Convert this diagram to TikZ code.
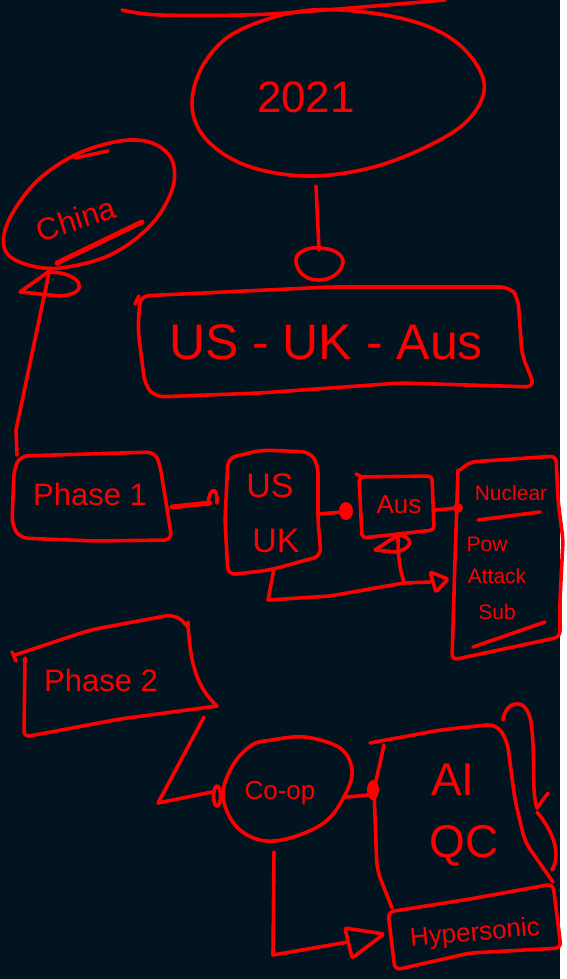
\documentclass[tikz,border=0pt]{standalone}
\usepackage{fontspec}
\setmainfont{Liberation Sans}
\definecolor{bgc}{HTML}{011420}
\definecolor{inkc}{HTML}{FF0000}
\tikzset{
  pen/.style={draw=inkc, line width=3.6pt, line cap=round, line join=round},
  lbl/.style={text=inkc, inner sep=0pt, anchor=center},
  blob/.style={fill=inkc, draw=none}
}
\begin{document}
\begin{tikzpicture}[x=1pt,y=-1pt]
\useasboundingbox (0,0) rectangle (566,979);
\fill[bgc] (0,0) rectangle (560,979);
\fill[white] (560,0) rectangle (566,979);

% ---------- top stroke and 2021 ellipse
\draw[pen] plot[smooth] coordinates {(122,10) (160,15) (270,14) (445,0)};
\draw[pen] plot[smooth cycle, tension=0.6] coordinates {(312,10) (400,18) (456,42) (484,82) (470,118) (430,145) (370,168) (305,176) (245,165) (205,138) (192,103) (205,62) (240,30)};
\node[lbl, font=\fontsize{44}{48}\selectfont] (n2021) at (306,97) {2021};
\coordinate (e2021s) at (316,186);
\coordinate (capn) at (319,250);
\draw[pen] (e2021s) -- (capn);
\draw[pen] plot[smooth cycle, tension=0.7] coordinates {(296,259) (305,250) (320,248) (336,252) (343,262) (335,275) (318,280) (302,274)};

% ---------- US-UK-Aus box
\draw[pen, rounded corners=9pt] (140,296) -- (330,287) -- (510,287) -- (518,298) -- (522,355) -- (535,387) -- (400,383) -- (260,393) -- (155,397) -- (145,385) -- (138,330) -- cycle;
\draw[pen] (135,304) -- (139,296);
\node[lbl, font=\fontsize{50}{54}\selectfont] (nauk) at (326,342) {US - UK - Aus};

% ---------- China
\draw[pen] plot[smooth cycle, tension=0.6] coordinates {(120,141) (75,155) (35,183) (8,222) (5,250) (25,264) (60,268) (110,255) (150,226) (172,190) (172,160) (152,143)};
\draw[pen] (75,158) -- (108,151);
\node[lbl, font=\fontsize{31}{35}\selectfont, rotate=18] (nchina) at (76,219) {China};
\draw[pen, line width=5pt] (57,263) -- (142,222);
\draw[pen] (20,292) -- (48,272) .. controls (82,272) and (92,294) .. (60,296) -- cycle;
\coordinate (chinas) at (50,268);
\coordinate (p1nw) at (17,455);

% ---------- Phase 1
\draw[pen, rounded corners=8pt] (20,456) -- (155,452) -- (160,465) -- (172,540) -- (95,541) -- (20,538) -- (12,525) -- (14,470) -- cycle;
\node[lbl, font=\fontsize{31}{35}\selectfont] (nphase1) at (90,494) {Phase 1};
\draw[pen] (chinas) -- (16,430) -- (p1nw);

% ---------- US UK
\draw[pen, rounded corners=8pt] (228,458) -- (262,450) -- (310,452) -- (318,465) -- (318,520) -- (321,556) -- (270,570) -- (228,575) -- (225,520) -- cycle;
\node[lbl, font=\fontsize{34}{38}\selectfont] (nus) at (270,486) {US};
\node[lbl, font=\fontsize{34}{38}\selectfont] (nuk) at (276,541) {UK};
\coordinate (p1e) at (172,507);
\coordinate (usukw) at (210,503);
\draw[pen, line width=5pt] (p1e) -- (usukw);
\draw[pen] (208,505) .. controls (209,486) and (218,486) .. (217,503);

% ---------- Aus
\draw[pen, rounded corners=4pt] (359,477) -- (432,476) -- (434,530) -- (362,538) -- cycle;
\draw[pen] (356,474) -- (362,477);
\node[lbl, font=\fontsize{26}{30}\selectfont] (naus) at (399,505) {Aus};
\coordinate (usuke) at (318,514);
\coordinate (ausw) at (343,512);
\draw[pen] (usuke) -- (ausw);
\fill[blob] (346,511) ellipse [x radius=7, y radius=9];

% ---------- Nuclear box
\draw[pen, rounded corners=6pt] (460,470) -- (470,462) -- (556,456) -- (558,500) -- (563,540) -- (560,600) -- (560,637) -- (452,660) -- (455,560) -- (458,470);
\node[lbl, font=\fontsize{21}{24}\selectfont] (nnuc) at (511,493) {Nuclear};
\draw[pen] (478,520) -- (540,512);
\node[lbl, font=\fontsize{21}{24}\selectfont] (npow) at (487,544) {Pow};
\node[lbl, font=\fontsize{21}{24}\selectfont] (natt) at (497,576) {Attack};
\node[lbl, font=\fontsize{21}{24}\selectfont] (nsub) at (497,612) {Sub};
\draw[pen] (473,647) -- (545,622);
\coordinate (ause) at (435,510);
\coordinate (nucw) at (457,508);
\draw[pen] (ause) -- (nucw);
\fill[blob] (458,508) circle (5);

% ---------- loop below Aus / US UK to Nuclear
\coordinate (auss) at (398,538);
\coordinate (usuks) at (274,569);
\coordinate (nucarr) at (430,582);
\draw[pen] (375,550) -- (398,535) .. controls (412,536) and (416,548) .. (395,552) -- cycle;
\draw[pen] (auss) .. controls (398,565) and (402,575) .. (404,583);
\draw[pen] (usuks) -- (268,600) -- (330,596) -- (404,583) -- (nucarr);
\draw[pen, rounded corners=2pt] (430,572) -- (448,579) -- (436,592) -- cycle;

% ---------- Phase 2
\draw[pen, rounded corners=10pt] (15,655) -- (90,630) -- (176,614) -- (188,627);
\draw[pen] (188,622) .. controls (190,670) and (200,690) .. (217,706);
\draw[pen, rounded corners=6pt] (217,706) -- (120,719) -- (24,737) -- (25,658);
\draw[pen] (12,652) -- (16,661);
\node[lbl, font=\fontsize{31}{35}\selectfont] (nphase2) at (101,680) {Phase 2};

% ---------- Co-op
\draw[pen] plot[smooth cycle, tension=0.6] coordinates {(272,740) (305,737) (340,748) (352,770) (345,795) (325,822) (290,838) (260,840) (235,825) (223,795) (233,765) (252,745)};
\node[lbl, font=\fontsize{26}{30}\selectfont] (ncoop) at (280,793) {Co-op};
\coordinate (p2se) at (204,717);
\coordinate (coopw) at (212,792);
\draw[pen] (p2se) -- (158,803) -- (coopw);
\draw[pen] (217,796) ellipse [x radius=3.5, y radius=10];

% ---------- AI QC
\draw[pen, rounded corners=9pt] (370,743) -- (440,730) -- (496,724) -- (507,740) -- (515,800) -- (525,842) -- (553,882);
\draw[pen, rounded corners=10pt] (384,745) -- (374,790) -- (377,870) -- (392,908);
\node[lbl, font=\fontsize{46}{50}\selectfont] (nai) at (453,780) {AI};
\node[lbl, font=\fontsize{46}{50}\selectfont] (nqc) at (464,846) {QC};
\draw[pen] (503,720) .. controls (505,702) and (526,694) .. (531,722) .. controls (536,760) and (531,790) .. (537,808);
\draw[pen] (537,808) -- (548,793);
\draw[pen] (537,812) .. controls (560,840) and (558,860) .. (552,870);
\coordinate (coope) at (346,797);
\coordinate (aiqcw) at (370,795);
\draw[pen] (coope) -- (aiqcw);
\fill[blob] (373,790) ellipse [x radius=6, y radius=10];

% ---------- Hypersonic
\draw[pen, rounded corners=6pt] (388,912) -- (470,899) -- (553,884) -- (561,948) -- (470,953) -- (395,970) -- cycle;
\node[lbl, font=\fontsize{26}{30}\selectfont, rotate=5] (nhyp) at (475,934) {Hypersonic};
\coordinate (coops) at (274,852);
\coordinate (hypw) at (348,942);
\draw[pen] (coops) -- (273,955) -- (hypw);
\draw[pen, rounded corners=2pt] (345,928) -- (384,934) -- (352,958) -- cycle;
\end{tikzpicture}
\end{document}
